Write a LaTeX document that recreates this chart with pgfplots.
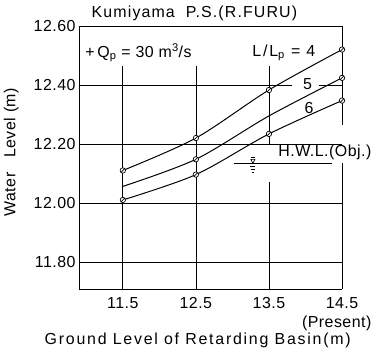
\documentclass[border=0pt]{standalone}
\usepackage{fontspec}
\setmainfont{Liberation Sans}[LetterSpace=11]
\newfontfamily\tightfont{Liberation Sans}[LetterSpace=3]
\newfontfamily\midfont{Liberation Sans}[LetterSpace=7]
\usepackage{pgfplots}
\pgfplotsset{compat=1.18}
\pgfdeclareplotmark{oslash}{%
  \pgfpathcircle{\pgfpointorigin}{\pgfplotmarksize}%
  \pgfusepathqfillstroke
  \pgfpathmoveto{\pgfpoint{-0.75\pgfplotmarksize}{-0.75\pgfplotmarksize}}%
  \pgfpathlineto{\pgfpoint{0.75\pgfplotmarksize}{0.75\pgfplotmarksize}}%
  \pgfusepathqstroke}
\begin{document}
\begin{tikzpicture}[font=\fontsize{16}{19}\selectfont]
\begin{axis}[
  scale only axis, width=263bp, height=263bp,
  xmin=10.9, xmax=14.5, ymin=11.708, ymax=12.6,
  axis x line*=bottom, axis y line*=left,
  axis line style={line width=0.9pt},
  xtick={11.5,12.5,13.5,14.5},
  xticklabels={11.5,12.5,13.5,14.5},
  ytick={11.8,12,12.2,12.4,12.6},
  yticklabel style={font=\fontsize{16}{19}\tightfont, /pgf/number format/.cd,fixed,fixed zerofill,precision=2},
  /pgf/number format/assume math mode=true,
  major tick length=0pt,
  xticklabel style={font=\fontsize{16}{19}\tightfont, yshift=-5bp},
  clip=false,
]
% frame top / right
\draw[line width=0.9pt] (10.9,12.6) -- (14.5,12.6) -- (14.5,12.263);
\draw[line width=0.9pt] (14.5,12.134) -- (14.5,11.708);
% horizontal grid
\draw[line width=0.7pt] (10.9,12.4) -- (13.815,12.4);
\draw[line width=0.7pt] (14.18,12.4) -- (14.5,12.4);
\draw[line width=0.7pt] (10.9,12.2) -- (14.5,12.2);
\draw[line width=0.7pt] (10.9,12.0) -- (14.5,12.0);
\draw[line width=0.7pt] (10.9,11.8) -- (14.5,11.8);
% vertical grid
\draw[line width=0.7pt] (11.5,12.465) -- (11.5,11.708);
\draw[line width=0.7pt] (12.5,12.465) -- (12.5,11.708);
\draw[line width=0.7pt] (13.5,12.465) -- (13.5,12.2);
\draw[line width=0.7pt] (13.5,12.071) -- (13.5,11.708);
% H.W.L. symbol
\draw[line width=0.7pt] (13.02,12.134) -- (14.36,12.134);
\draw[line width=0.6pt] ([xshift=-2bp,yshift=4bp]13.28,12.134) -- ([xshift=2bp,yshift=4bp]13.28,12.134) -- (13.28,12.134) -- cycle;
\draw[line width=0.6pt] ([xshift=-2bp,yshift=6bp]13.28,12.134) -- ([xshift=2bp,yshift=6bp]13.28,12.134);
\draw[line width=0.6pt] ([xshift=-2.5bp,yshift=-3bp]13.28,12.134) -- ([xshift=2.5bp,yshift=-3bp]13.28,12.134);
\draw[line width=0.6pt] ([xshift=-1.7bp,yshift=-6bp]13.28,12.134) -- ([xshift=1.7bp,yshift=-6bp]13.28,12.134);
\draw[line width=0.6pt] ([xshift=-0.9bp,yshift=-9bp]13.28,12.134) -- ([xshift=0.9bp,yshift=-9bp]13.28,12.134);
% curves
\addplot[black, line width=1pt, smooth, mark=oslash, mark size=2.7pt, mark options={fill=white, line width=0.7pt}]
  coordinates {(11.5,12.11) (12.5,12.22) (13.5,12.383) (14.5,12.52)};
\addplot[black, line width=1pt, smooth, mark=oslash, mark size=2.7pt, mark indices={2,4}, mark options={fill=white, line width=0.7pt}]
  coordinates {(11.5,12.056) (12.5,12.148) (13.5,12.295) (14.5,12.424)};
\addplot[black, line width=1pt, smooth, mark=oslash, mark size=2.7pt, mark options={fill=white, line width=0.7pt}]
  coordinates {(11.5,12.01) (12.5,12.096) (13.5,12.234) (14.5,12.347)};
% labels
\node[font=\fontsize{16}{19}\midfont] at (12.48,12.644) {Kumiyama\ \ P.S.(R.FURU)};
\node[font=\fontsize{16}{19}\tightfont] at (11.715,12.509) {+\,Q\textsubscript{p} = 30 m\textsuperscript{3}/s};
\node at (13.705,12.509) {L/L\textsubscript{p} = 4};
\node at (14.03,12.404) {5};
\node at (14.05,12.323) {6};
\node[anchor=east, inner sep=0pt, font=\fontsize{16}{19}\tightfont] at (14.905,12.171) {H.W.L.(Obj.)};
\node[anchor=east, inner sep=0pt, font=\fontsize{16}{19}\tightfont] at (14.905,11.59) {(Present)};
\node at (12.525,11.535) {Ground Level of Retarding Basin(m)};
\node[rotate=90, font=\fontsize{16}{19}\tightfont] at (9.973,12.172) {Water\ \ \ Level (m)};
\coordinate (BL) at (rel axis cs:0,0);
\coordinate (TR) at (rel axis cs:1,1);
\end{axis}
\pgfresetboundingbox
\path ([shift={(-79bp,-60bp)}]BL) rectangle ([shift={(32bp,26bp)}]TR);
\end{tikzpicture}
\end{document}
